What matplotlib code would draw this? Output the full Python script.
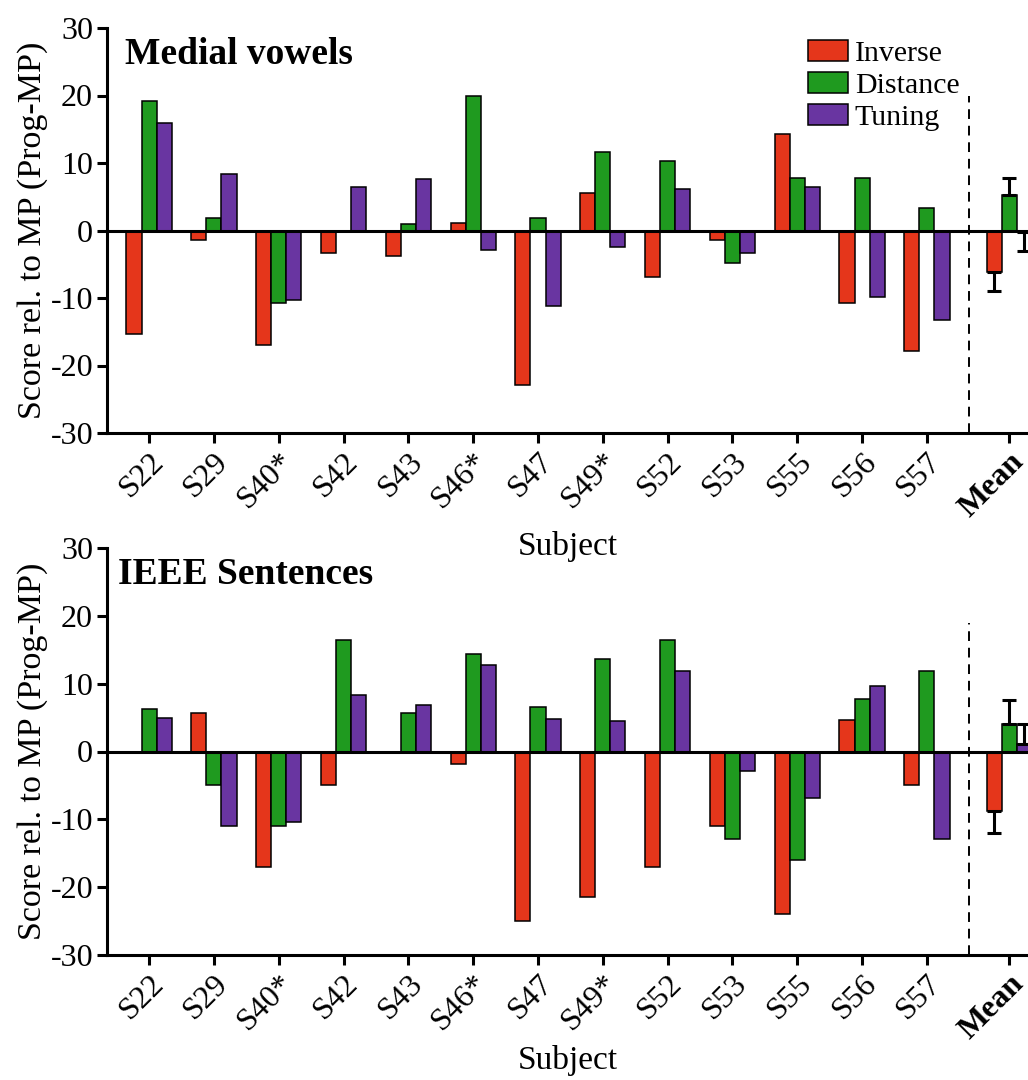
import matplotlib
matplotlib.use("Agg")
import matplotlib.pyplot as plt
import numpy as np

plt.rcParams['font.family'] = ['Liberation Serif', 'DejaVu Serif']
plt.rcParams['axes.unicode_minus'] = False

subjects = ["S22", "S29", "S40*", "S42", "S43", "S46*", "S47", "S49*", "S52", "S53", "S55", "S56", "S57"]
series = ["Inverse", "Distance", "Tuning"]
colors = ["#E5361B", "#1F9A1F", "#6935A1"]

# Medial vowels
vow_inverse = [-15.3, -1.4, -16.9, -3.3, -3.8, 1.1, -22.9, 5.6, -6.9, -1.4, 14.3, -10.8, -17.9]
vow_distance = [19.2, 1.9, -10.8, 0.0, 0.9, 19.9, 1.9, 11.6, 10.3, -4.8, 7.8, 7.8, 3.3]
vow_tuning = [16.0, 8.4, -10.3, 6.4, 7.6, -2.9, -11.2, -2.4, 6.1, -3.3, 6.4, -9.9, -13.3]
vow_mean = [-6.1, 5.2, -0.2]
vow_err = [2.9, 2.6, 2.8]

# IEEE sentences
ieee_inverse = [0.0, 5.7, -17.0, -4.9, 0.0, -1.8, -25.0, -21.5, -17.0, -11.0, -24.0, 4.7, -4.9]
ieee_distance = [6.3, -4.9, -11.0, 16.4, 5.7, 14.3, 6.5, 13.7, 16.4, -12.9, -16.0, 7.8, 11.8]
ieee_tuning = [5.0, -11.0, -10.4, 8.4, 6.8, 12.7, 4.8, 4.5, 11.8, -2.9, -6.9, 9.7, -12.9]
ieee_mean = [-8.8, 4.0, 1.1]
ieee_err = [3.2, 3.6, 3.0]

yticks = [-30, -20, -10, 0, 10, 20, 30]

W, H = 1028, 1080
fig = plt.figure(figsize=(W / 100, H / 100), dpi=100)

ax1 = fig.add_axes([107 / W, 1 - 433 / H, (W - 107) / W, (433 - 28) / H])
ax2 = fig.add_axes([107 / W, 1 - 955 / H, (W - 107) / W, (955 - 548) / H])
ax1.set_zorder(3)
ax2.set_zorder(1)
ax2.patch.set_visible(False)

bw = 0.233
mean_pos = 13.27
divider = 12.65


def draw(ax, inv, dist, tun, means, errs, title, title_x, dash_top, xpad, legend=False):
    x = np.arange(len(subjects))
    data = [inv, dist, tun]
    for i, (vals, c, name) in enumerate(zip(data, colors, series)):
        ax.bar(x + (i - 1) * bw, vals, width=bw, color=c, edgecolor="black",
               linewidth=1.1, label=name, zorder=2)
    for i, (m, e, c) in enumerate(zip(means, errs, colors)):
        xp = mean_pos + (i - 1) * bw
        ax.bar(xp, m, width=bw, color=c, edgecolor="black", linewidth=1.1, zorder=2)
        yerr = [[e], [0]] if m < 0 else [[0], [e]]
        ax.errorbar(xp, m, yerr=yerr, fmt="none", ecolor="black", elinewidth=2.2,
                    capsize=5, capthick=2.2, zorder=3)
    ax.axhline(0, color="black", linewidth=2.2, zorder=4)
    ax.plot([divider, divider], [-30, dash_top], color="black", linewidth=1.4,
            linestyle=(0, (5, 3.5)), zorder=1)
    ax.set_xlim(-0.65, 13.56)
    ax.set_ylim(-30, 30)
    ax.set_yticks(yticks)
    ax.set_yticklabels([str(t) for t in yticks], fontsize=23)
    ax.set_xticks(list(x) + [mean_pos])
    labels = ax.set_xticklabels(subjects + ["Mean"], rotation=45, ha="right",
                                rotation_mode="anchor", fontsize=23)
    labels[-1].set_fontweight("bold")
    for s in ["top", "right"]:
        ax.spines[s].set_visible(False)
    for s in ["left", "bottom"]:
        ax.spines[s].set_linewidth(2.2)
    ax.tick_params(axis="both", width=2.2, length=7, direction="out", pad=3)
    ax.set_ylabel("Score rel. to MP (Prog-MP)", fontsize=24.5, labelpad=2)
    ax.set_xlabel("Subject", fontsize=24, labelpad=xpad)
    ax.text(title_x, 0.935, title, transform=ax.transAxes, fontsize=27,
            fontweight="bold", va="center", ha="left")
    if legend:
        ax.legend(loc="upper left", bbox_to_anchor=(0.761, 0.97), frameon=False,
                  fontsize=21.5, handlelength=1.35, handleheight=0.68,
                  handletextpad=0.22, labelspacing=0.18, borderpad=0,
                  borderaxespad=0)


draw(ax1, vow_inverse, vow_distance, vow_tuning, vow_mean, vow_err,
     "Medial vowels", 0.0195, 20, 6, legend=True)
draw(ax2, ieee_inverse, ieee_distance, ieee_tuning, ieee_mean, ieee_err,
     "IEEE Sentences", 0.012, 19, 0)

fig.savefig("out.png", dpi=100)
